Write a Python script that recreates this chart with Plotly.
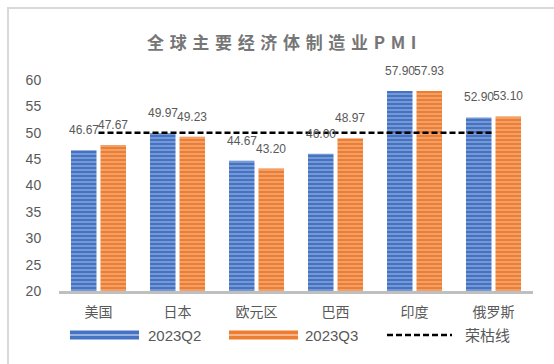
import plotly.graph_objects as go

categories = ["美国", "日本", "欧元区", "巴西", "印度", "俄罗斯"]
q2_values = [46.67, 49.97, 44.67, 46.00, 57.90, 52.90]
q3_values = [47.67, 49.23, 43.20, 48.97, 57.93, 53.10]
threshold = [50, 50, 50, 50, 50, 50]
series_names = ["2023Q2", "2023Q3", "荣枯线"]
title_text = "全球主要经济体制造业PMI"

W, H = 554, 364
ML, MR, MT, MB = 59, 21, 80, 73
PW, PH = W - ML - MR, H - MT - MB
BARGAP, GROUPGAP = 0.253, 0.135

BLUE, BLUE_L = "#4472C4", "#b4c7e7"
ORANGE, ORANGE_L = "#ED7D31", "#f8cbad"
GREY = "#595959"
FONT = "Liberation Sans, Noto Sans CJK SC, sans-serif"


def fx(px):
    return (px - ML) / PW


def fy(py):
    return (H - MB - py) / PH


fig = go.Figure()
fig.add_trace(go.Bar(
    x=categories, y=q2_values, name=series_names[0],
    marker=dict(color=BLUE, line=dict(width=0),
                pattern=dict(shape="-", fgcolor=BLUE_L, size=4, solidity=0.45)),
    showlegend=False,
))
fig.add_trace(go.Bar(
    x=categories, y=q3_values, name=series_names[1],
    marker=dict(color=ORANGE, line=dict(width=0),
                pattern=dict(shape="-", fgcolor=ORANGE_L, size=4, solidity=0.45)),
    showlegend=False,
))
fig.add_trace(go.Scatter(
    x=categories, y=threshold, name=series_names[2], mode="lines",
    line=dict(color="black", width=2.5, dash="6px,3px"),
    showlegend=False,
))

# data labels
slot = PW / len(categories) * (1 - BARGAP) / 2
annotations = []
for vals, sgn in ((q2_values, -1), (q3_values, 1)):
    for c, v in zip(categories, vals):
        annotations.append(dict(
            x=c, y=v, xref="x", yref="y", text=f"{v:.2f}", showarrow=False,
            xshift=sgn * slot / 2, yshift=20, yanchor="middle",
            font=dict(size=12, color=GREY, family=FONT),
        ))

# manual legend
shapes = []
legend_y = 335
for (x0, x1), col, lcol in (((70, 139), BLUE, BLUE_L), ((229, 298), ORANGE, ORANGE_L)):
    shapes.append(dict(type="rect", xref="paper", yref="paper",
                       x0=fx(x0), x1=fx(x1), y0=fy(legend_y + 4.5), y1=fy(legend_y - 4.5),
                       fillcolor=col, line=dict(width=0)))
    shapes.append(dict(type="line", xref="paper", yref="paper",
                       x0=fx(x0), x1=fx(x1), y0=fy(legend_y), y1=fy(legend_y),
                       line=dict(color=lcol, width=1.5)))
shapes.append(dict(type="line", xref="paper", yref="paper",
                   x0=fx(387), x1=fx(452), y0=fy(legend_y), y1=fy(legend_y),
                   line=dict(color="black", width=2.5, dash="6px,3px")))
for name, xl in zip(series_names, (146, 303, 463)):
    annotations.append(dict(
        x=fx(xl), y=fy(legend_y), xref="paper", yref="paper", text=name,
        showarrow=False, xanchor="left", yanchor="middle",
        font=dict(size=15, color=GREY, family=FONT),
    ))

# frame (left and top edges)
shapes.append(dict(type="line", xref="paper", yref="paper",
                   x0=fx(8), x1=fx(8), y0=fy(8), y1=fy(H + 5),
                   line=dict(color="#d9d9d9", width=2)))
shapes.append(dict(type="line", xref="paper", yref="paper",
                   x0=fx(7), x1=fx(W + 5), y0=fy(8), y1=fy(8),
                   line=dict(color="#d9d9d9", width=2)))

# title with letter spacing
spaced_title = "\u2004".join(title_text)
annotations.append(dict(
    x=fx(281.5), y=fy(42), xref="paper", yref="paper", text="<b>" + spaced_title + "</b>",
    showarrow=False, xanchor="center", yanchor="middle",
    font=dict(size=17, color="#767676", family="Noto Sans CJK SC, Liberation Sans, sans-serif"),
))

fig.update_layout(
    width=W, height=H,
    margin=dict(l=ML, r=MR, t=MT, b=MB, pad=0),
    paper_bgcolor="white", plot_bgcolor="white",
    barmode="group", bargap=BARGAP, bargroupgap=GROUPGAP,
    showlegend=False,
    annotations=annotations, shapes=shapes,
    font=dict(family=FONT, color=GREY),
    xaxis=dict(
        type="category", showgrid=False, zeroline=False,
        showline=True, linecolor="#bfbfbf", linewidth=3,
        ticks="outside", ticklen=6, tickcolor="rgba(0,0,0,0)",
        tickfont=dict(size=14, color=GREY, family=FONT),
    ),
    yaxis=dict(
        range=[20, 60], dtick=5, tick0=20, showgrid=False, zeroline=False,
        showline=False, ticks="outside", ticklen=14, tickcolor="rgba(0,0,0,0)",
        tickfont=dict(size=14, color=GREY, family=FONT),
    ),
)

fig.write_html("out.html")
